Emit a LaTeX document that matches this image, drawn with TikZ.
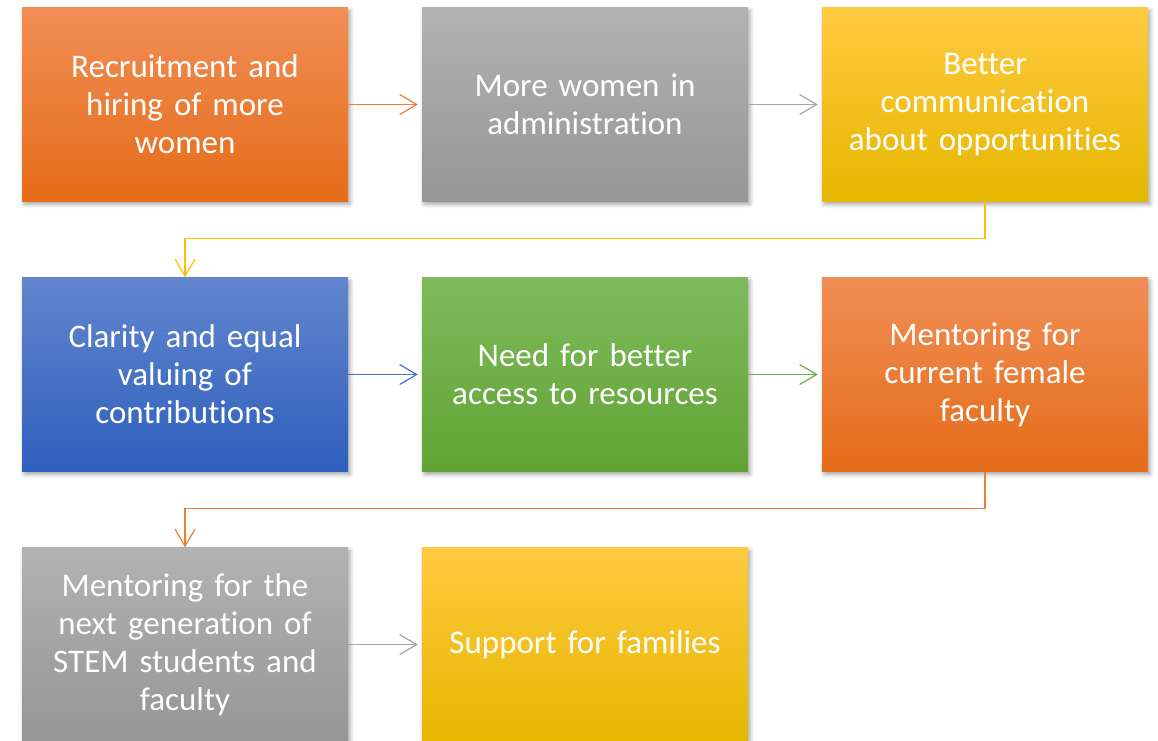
\documentclass[tikz,border=0pt]{standalone}
\usepackage{fontspec}
\setmainfont{Carlito}[Ligatures={NoCommon}]
\usetikzlibrary{arrows.meta,shadows.blur,positioning}
\definecolor{orTop}{RGB}{241,142,86}
\definecolor{orBot}{RGB}{229,108,24}
\definecolor{grTop}{RGB}{178,178,178}
\definecolor{grBot}{RGB}{150,150,150}
\definecolor{yeTop}{RGB}{255,202,64}
\definecolor{yeBot}{RGB}{229,183,0}
\definecolor{blTop}{RGB}{98,134,206}
\definecolor{blBot}{RGB}{46,95,188}
\definecolor{gnTop}{RGB}{127,186,92}
\definecolor{gnBot}{RGB}{97,164,52}
\definecolor{orLine}{RGB}{237,125,49}
\definecolor{grLine}{RGB}{165,165,165}
\definecolor{yeLine}{RGB}{255,192,0}
\definecolor{blLine}{RGB}{68,114,196}
\definecolor{gnLine}{RGB}{112,173,71}
\tikzset{
  x=1pt,y=-1pt,
  stepbox/.style={rectangle, minimum width=326pt, minimum height=194pt, inner sep=0pt,
    text width=310pt, align=center, text=white,
    font=\fontsize{33}{38}\selectfont,
    blur shadow={shadow xshift=2pt, shadow yshift=-3pt, shadow blur radius=4pt, shadow opacity=35}},
  orbox/.style={stepbox, top color=orTop, bottom color=orBot},
  grbox/.style={stepbox, top color=grTop, bottom color=grBot},
  yebox/.style={stepbox, top color=yeTop, bottom color=yeBot},
  blbox/.style={stepbox, top color=blTop, bottom color=blBot},
  gnbox/.style={stepbox, top color=gnTop, bottom color=gnBot},
  conn/.style={line width=1.2pt, -{Straight Barb[length=17pt,width=20pt,line width=1.2pt]}, shorten >=4pt},
}
\begin{document}
\begin{tikzpicture}
\useasboundingbox (0,0) rectangle (1158,740);
\clip (0,0) rectangle (1158,740);
\node[orbox] (a) at (185,104.5) {Recruitment and\\hiring of more\\women};
\node[grbox] (b) at (585,104.5) {More women in\\administration};
\node[yebox] (c) at (985,104.5) {Better\\communication\\about opportunities};
\node[blbox] (d) at (185,374.5) {Clarity and equal\\valuing of\\contributions};
\node[gnbox] (e) at (585,374.5) {Need for better\\access to resources};
\node[orbox] (f) at (985,374.5) {Mentoring for\\current female\\faculty};
\node[grbox] (g) at (185,644.5) {Mentoring for the\\next generation of\\STEM students and\\faculty};
\node[yebox] (h) at (585,644.5) {Support for families};

\draw[conn, orLine] (a.east) -- (b.west);
\draw[conn, grLine] (b.east) -- (c.west);
\draw[conn, yeLine] (c.south) -- ++(0,37) -| ([yshift=-4pt]d.north);
\draw[conn, blLine] (d.east) -- (e.west);
\draw[conn, gnLine] (e.east) -- (f.west);
\draw[conn, orLine] (f.south) -- ++(0,37) -| ([yshift=-4pt]g.north);
\draw[conn, grLine] (g.east) -- (h.west);
\end{tikzpicture}
\end{document}
